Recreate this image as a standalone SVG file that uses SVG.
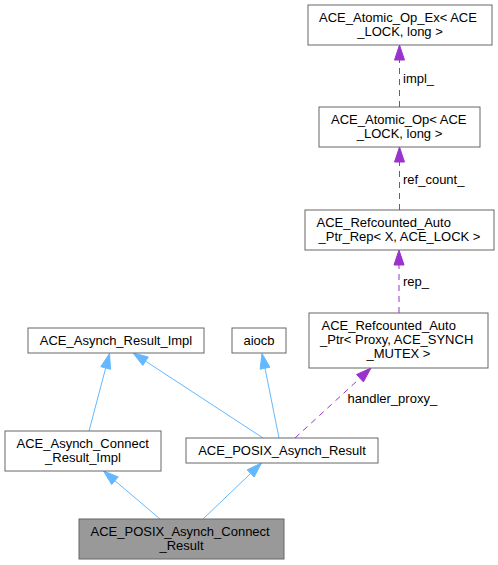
<svg xmlns="http://www.w3.org/2000/svg" width="498" height="565" viewBox="0 0 498 565">
<style>
  .box { fill: #ffffff; stroke: #666666; stroke-width: 1; }
  .cur { fill: #999999; stroke: #666666; stroke-width: 1; }
  text { font-family: "Liberation Sans", Arial, Helvetica, sans-serif; font-size: 13px; fill: #000000; }
  .m { text-anchor: middle; }
  .inh { stroke: #63b8ff; stroke-width: 1; fill: none; }
  .inhh { fill: #63b8ff; stroke: #63b8ff; stroke-width: 1; }
  .use { stroke: #9a32cd; stroke-width: 1; fill: none; stroke-dasharray: 6,5; }
  .useh { fill: #9a32cd; stroke: #9a32cd; stroke-width: 1; }
</style>
<rect width="498" height="565" fill="#ffffff"/>

<g id="edges">
  <line class="inh" x1="89" y1="431" x2="105.7" y2="368"/>
  <polygon class="inhh" points="109.5,353.5 110.5,369.3 100.8,366.7"/>
  <line class="inh" x1="263" y1="438" x2="145.6" y2="361.2"/>
  <polygon class="inhh" points="133,353 148.3,357 142.8,365.4"/>
  <line class="inh" x1="279" y1="438" x2="265" y2="368.2"/>
  <polygon class="inhh" points="262,353.5 269.9,367.2 260.1,369.2"/>
  <line class="inh" x1="160" y1="519" x2="114.9" y2="480.7"/>
  <polygon class="inhh" points="103.5,471 118.2,476.9 111.7,484.5"/>
  <line class="inh" x1="203" y1="519" x2="250.7" y2="473.4"/>
  <polygon class="inhh" points="261.5,463 254.1,477 247.2,469.8"/>

  <line class="use" x1="399.5" y1="107" x2="399.5" y2="60"/>
  <polygon class="useh" points="399.5,45 394.5,60 404.5,60"/>
  <text x="403" y="83">impl_</text>
  <line class="use" x1="399.5" y1="210" x2="399.5" y2="162"/>
  <polygon class="useh" points="399.5,147 394.5,162 404.5,162"/>
  <text x="403" y="184">ref_count_</text>
  <line class="use" x1="399" y1="313" x2="399" y2="265"/>
  <polygon class="useh" points="399,250 394,265 404,265"/>
  <text x="403" y="286">rep_</text>
  <line class="use" x1="295" y1="438" x2="360" y2="378.2"/>
  <polygon class="useh" points="371,368 363.4,381.9 356.6,374.5"/>
  <text x="347.5" y="403">handler_proxy_</text>
</g>

<g id="node_atomic_op_ex">
  <rect class="box" x="308" y="5" width="184" height="40"/>
  <text x="319" y="21.5">ACE_Atomic_Op_Ex&lt; ACE</text>
  <text class="m" x="400" y="35.5">_LOCK, long &gt;</text>
</g>
<g id="node_atomic_op">
  <rect class="box" x="319" y="107" width="161" height="40"/>
  <text x="331" y="123.5">ACE_Atomic_Op&lt; ACE</text>
  <text class="m" x="399.5" y="137.5">_LOCK, long &gt;</text>
</g>
<g id="node_rep">
  <rect class="box" x="305" y="210" width="189" height="40"/>
  <text x="316.5" y="226.5">ACE_Refcounted_Auto</text>
  <text class="m" x="399.5" y="240.5">_Ptr_Rep&lt; X, ACE_LOCK &gt;</text>
</g>
<g id="node_ptr">
  <rect class="box" x="309" y="313" width="179" height="55"/>
  <text x="321.5" y="329.5">ACE_Refcounted_Auto</text>
  <text x="320" y="343.5">_Ptr&lt; Proxy, ACE_SYNCH</text>
  <text class="m" x="398.5" y="357.5">_MUTEX &gt;</text>
</g>
<g id="node_result_impl">
  <rect class="box" x="28" y="328" width="176" height="25"/>
  <text class="m" x="116" y="345">ACE_Asynch_Result_Impl</text>
</g>
<g id="node_aiocb">
  <rect class="box" x="232" y="328" width="54" height="25"/>
  <text class="m" x="259" y="345">aiocb</text>
</g>
<g id="node_connect_result_impl">
  <rect class="box" x="5" y="431" width="156" height="40"/>
  <text x="16.5" y="447.5">ACE_Asynch_Connect</text>
  <text class="m" x="83" y="461.5">_Result_Impl</text>
</g>
<g id="node_posix_result">
  <rect class="box" x="186" y="438" width="192" height="25"/>
  <text class="m" x="282" y="454.5">ACE_POSIX_Asynch_Result</text>
</g>
<g id="node_posix_connect_result">
  <rect class="cur" x="79" y="519" width="205" height="40"/>
  <text x="90.5" y="535.5">ACE_POSIX_Asynch_Connect</text>
  <text class="m" x="181.5" y="549.5">_Result</text>
</g>
</svg>
